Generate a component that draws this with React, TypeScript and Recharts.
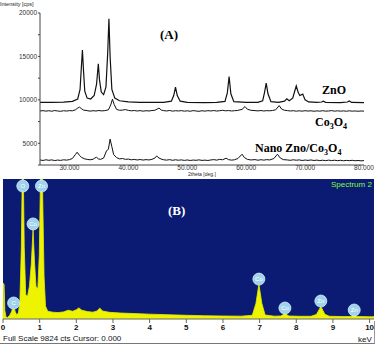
import { LineChart, Line, XAxis, YAxis, AreaChart, Area, CartesianGrid, ReferenceDot } from "recharts";

// XRD patterns: [2theta, intensity]
const zno: [number, number][] = [
  [25, 9700], [27, 9710], [29, 9750], [30.5, 9830], [31.4, 10100], [31.8, 11200], [32.0, 13500], [32.2, 15750],
  [32.4, 13200], [32.6, 11000], [33.0, 10200], [33.6, 10100], [34.2, 10500], [34.6, 11800], [34.9, 14150],
  [35.1, 12300], [35.4, 10900], [35.8, 10600], [36.2, 11500], [36.5, 15500], [36.7, 19340], [36.9, 15000],
  [37.2, 11200], [37.7, 10200], [38.5, 9900], [40, 9760], [42, 9720], [44, 9700], [46, 9710], [47.3, 9850],
  [47.7, 10500], [48.0, 11460], [48.3, 10500], [48.8, 9850], [50, 9720], [53, 9690], [55, 9700], [56.4, 9820],
  [56.8, 10800], [57.1, 12690], [57.4, 10700], [57.9, 9800], [60, 9700], [62, 9720], [62.8, 9900], [63.1, 10800],
  [63.4, 11930], [63.7, 10700], [64.2, 9800], [65.5, 9720], [66.5, 9850], [66.9, 10120], [67.3, 9900],
  [67.9, 10200], [68.2, 10900], [68.5, 11610], [68.8, 10900], [69.1, 10500], [69.6, 10660], [70.0, 10000],
  [70.6, 9760], [72, 9700], [72.8, 9750], [73.1, 9850], [73.5, 9720], [76, 9690], [77.2, 9750], [77.5, 9880],
  [77.9, 9700], [80, 9680],
];

const co3o4: [number, number][] = [
  [25, 8720], [25.5, 8760], [26, 8700], [26.5, 8750], [27, 8690], [27.5, 8770], [28, 8720], [28.5, 8680],
  [29, 8750], [29.5, 8710], [30, 8760], [30.5, 8740], [31, 8850], [31.4, 9050], [31.7, 9160], [32.0, 9000],
  [32.4, 8820], [33, 8760], [33.5, 8700], [34, 8750], [34.5, 8720], [35, 8770], [35.5, 8730], [36, 8760],
  [36.6, 8850], [37.0, 9400], [37.3, 10080], [37.6, 9450], [38, 8900], [38.5, 8800], [39, 8820], [39.5, 8880],
  [40, 8790], [40.5, 8740], [41, 8770], [41.5, 8720], [42, 8760], [42.5, 8700], [43, 8750], [43.5, 8720],
  [44, 8770], [44.5, 8800], [45.2, 9050], [45.6, 8820], [46, 8760], [46.5, 8720], [47, 8780], [47.5, 8700],
  [48, 8750], [48.5, 8720], [49, 8760], [49.5, 8700], [50, 8740], [50.5, 8690], [51, 8760], [51.5, 8720],
  [52, 8680], [52.5, 8750], [53, 8700], [53.5, 8760], [54, 8720], [54.5, 8770], [55, 8710], [55.5, 8750],
  [56, 8800], [56.5, 8740], [57, 8770], [57.5, 8720], [58, 8750], [58.5, 8780], [59.3, 8900], [59.8, 9230],
  [60.2, 8920], [60.8, 8800], [61.5, 8760], [62, 8730], [62.5, 8770], [63, 8720], [63.5, 8760], [64, 8740],
  [64.5, 8780], [65.0, 8850], [65.6, 9340], [66.0, 8950], [66.5, 8800], [67, 8760], [67.5, 8720], [68, 8750],
  [68.5, 8700], [69, 8740], [69.5, 8700], [70, 8750], [70.5, 8710], [71, 8740], [71.5, 8690], [72, 8730],
  [72.5, 8700], [73, 8750], [73.5, 8700], [74, 8720], [74.5, 8760], [75, 8700], [75.5, 8740], [76, 8700],
  [76.5, 8730], [77, 8690], [77.5, 8740], [78, 8700], [78.5, 8720], [79, 8690], [79.5, 8720], [80, 8700],
];

const nano: [number, number][] = [
  [25, 3080], [25.5, 3020], [26, 3100], [26.5, 3040], [27, 3090], [27.5, 3010], [28, 3070], [28.5, 3030],
  [29, 3100], [29.5, 3060], [30, 3120], [30.5, 3250], [31.0, 3700], [31.3, 3970], [31.7, 3600], [32.1, 3350],
  [32.6, 3200], [33, 3150], [33.5, 3100], [34, 3160], [34.3, 3300], [34.6, 3390], [34.9, 3200], [35.3, 3150],
  [35.8, 3300], [36.3, 4150], [36.6, 4300], [36.9, 5470], [37.2, 4600], [37.5, 3700], [38, 3350], [38.5, 3200],
  [39, 3250], [39.5, 3150], [40, 3180], [40.5, 3100], [41, 3140], [41.5, 3080], [42, 3130], [42.5, 3070],
  [43, 3120], [43.5, 3080], [44, 3150], [44.5, 3300], [44.8, 3540], [45.2, 3300], [45.7, 3150], [46, 3100],
  [46.5, 3060], [47, 3120], [47.5, 3040], [48, 3100], [48.5, 3050], [49, 3090], [49.5, 3030], [50, 3080],
  [50.5, 3020], [51, 3070], [51.5, 3040], [52, 3090], [52.5, 3030], [53, 3060], [53.5, 3020], [54, 3080],
  [54.5, 3120], [55, 3060], [55.5, 3150], [56, 3100], [56.6, 3280], [57, 3120], [57.5, 3060], [58, 3100],
  [58.6, 3250], [59.3, 3740], [59.7, 3350], [60.2, 3150], [60.8, 3080], [61.5, 3120], [62, 3050], [62.5, 3110],
  [63, 3060], [63.5, 3120], [64, 3080], [64.7, 3250], [65.3, 3740], [65.8, 3300], [66.3, 3120], [67, 3080],
  [67.5, 3040], [68, 3100], [68.5, 3050], [69, 3090], [69.5, 3020], [70, 3070], [70.5, 3030], [71, 3080],
  [71.5, 3020], [72, 3060], [72.5, 3010], [73, 3050], [73.5, 3000], [74, 3060], [74.5, 3010], [75, 3050],
  [75.5, 3000], [76, 3040], [76.5, 2990], [77, 3030], [77.5, 3000], [78, 3040], [78.5, 2990], [79, 3020],
  [79.5, 2980], [80, 3010],
];

const thetaTicks = [25, 30, 35, 40, 45, 50, 55, 60, 65, 70, 75, 80];
const intensityTicks = [2500, 5000, 7500, 10000, 12500, 15000, 17500, 20000];

// EDS spectrum: [keV, counts]
const eds: [number, number][] = [
  [0, 0], [0.015, 2500], [0.03, 2400], [0.05, 600], [0.08, 150], [0.12, 100], [0.18, 250], [0.23, 500],
  [0.29, 930], [0.33, 550], [0.37, 300], [0.42, 420], [0.46, 1200], [0.5, 5000], [0.54, 13000], [0.58, 5000],
  [0.62, 1700], [0.67, 1600], [0.72, 2300], [0.77, 3800], [0.82, 6270], [0.86, 4000], [0.9, 2300], [0.95, 2100],
  [0.99, 4500], [1.02, 9500], [1.05, 13000], [1.08, 9000], [1.12, 3000], [1.16, 900], [1.22, 550], [1.35, 480],
  [1.5, 450], [1.65, 500], [1.78, 620], [1.9, 540], [2.0, 650], [2.07, 780], [2.15, 620], [2.3, 520],
  [2.45, 480], [2.56, 560], [2.64, 760], [2.72, 560], [2.9, 470], [3.2, 420], [3.6, 380], [4.0, 340],
  [4.5, 300], [5.0, 260], [5.5, 230], [6.0, 210], [6.5, 200], [6.8, 260], [6.9, 1100], [6.98, 2440],
  [7.06, 1100], [7.15, 280], [7.4, 200], [7.58, 210], [7.69, 380], [7.8, 210], [8.1, 190], [8.4, 190],
  [8.55, 320], [8.67, 880], [8.78, 330], [8.9, 190], [9.3, 170], [9.5, 180], [9.58, 300], [9.66, 175],
  [10.0, 160], [10.12, 160],
];

const edsLabels = [
  { el: "C", k: 0.29, c: 1120 },
  { el: "O", k: 0.54, c: 9330 },
  { el: "Co", k: 0.82, c: 6670 },
  { el: "Zn", k: 1.05, c: 9330 },
  { el: "Co", k: 6.98, c: 2800 },
  { el: "Co", k: 7.69, c: 770 },
  { el: "Zn", k: 8.67, c: 1260 },
  { el: "Zn", k: 9.58, c: 630 },
];

const keVTicks = [0, 1, 2, 3, 4, 5, 6, 7, 8, 9, 10];
const minorKeV = Array.from({ length: 102 }, (_, i) => Math.round(i * 10) / 100);
const FULL_SCALE = 9824;

const pts = (arr: [number, number][]) => arr.map(([x, y]) => ({ x, y }));

const serif = "'Liberation Serif', 'Times New Roman', serif";
const sans = "'Liberation Sans', Arial, sans-serif";

function Tag({ x, y, size, children, color = "#000", bold = true, font = serif }: any) {
  return (
    <span
      style={{
        position: "absolute",
        left: x,
        top: y,
        fontSize: size,
        fontFamily: font,
        fontWeight: bold ? "bold" : "normal",
        color,
        lineHeight: 1,
        whiteSpace: "nowrap",
      }}
    >
      {children}
    </span>
  );
}

export default function App() {
  const axisColor = "#444";
  return (
    <div style={{ position: "absolute", left: 0, top: 0, width: 379, height: 346, background: "#fff", overflow: "hidden" }}>
      {/* (A) XRD */}
      <div style={{ position: "absolute", left: 0, top: 0 }}>
        <LineChart width={379} height={176} margin={{ top: 13, right: 15, bottom: 0, left: 4 }}>
          <XAxis xAxisId="in" type="number" dataKey="x" domain={[25, 80]} ticks={thetaTicks} interval={0}
            height={0} mirror tick={false} tickSize={2} axisLine={false} stroke={axisColor} />
          <XAxis xAxisId="b" type="number" dataKey="x" domain={[25, 80]} ticks={thetaTicks} interval={0}
            height={11} tickSize={0} tickMargin={0} stroke={axisColor}
            tick={{ fontSize: 6.5, fill: "#333", fontFamily: sans }}
            tickFormatter={(v: number) => (v % 10 === 0 ? v.toFixed(3) : "")} />
          <XAxis xAxisId="t" orientation="top" type="number" dataKey="x" domain={[25, 80]} ticks={thetaTicks}
            interval={0} height={0} mirror tick={false} tickSize={2} stroke={axisColor} />
          <YAxis yAxisId="l" type="number" domain={[2500, 20000]} ticks={intensityTicks} interval={0} width={36}
            tickSize={2} tickMargin={1} stroke={axisColor}
            tick={{ fontSize: 6.5, fill: "#333", fontFamily: sans }}
            tickFormatter={(v: number) => (v % 5000 === 0 ? String(v) : "")} />
          <YAxis yAxisId="r" orientation="right" type="number" domain={[2500, 20000]} ticks={intensityTicks}
            interval={0} width={0} mirror tick={false} tickSize={2} stroke={axisColor} />
          <Line xAxisId="b" yAxisId="l" data={pts(zno)} dataKey="y" stroke="#111" strokeWidth={1.2} dot={false} isAnimationActive={false} />
          <Line xAxisId="b" yAxisId="l" data={pts(co3o4)} dataKey="y" stroke="#111" strokeWidth={1} dot={false} isAnimationActive={false} />
          <Line xAxisId="b" yAxisId="l" data={pts(nano)} dataKey="y" stroke="#111" strokeWidth={1} dot={false} isAnimationActive={false} />
        </LineChart>
      </div>
      <Tag x={0} y={2} size={5.5} bold={false} font={sans} color="#222">Intensity [cps]</Tag>
      <Tag x={188} y={172} size={5} bold={false} font={sans} color="#222">2theta [deg.]</Tag>
      <Tag x={160} y={28} size={13}>(A)</Tag>
      <Tag x={322} y={84} size={12}>ZnO</Tag>
      <Tag x={315} y={116} size={12}>Co<sub style={{ fontSize: 8 }}>3</sub>O<sub style={{ fontSize: 8 }}>4</sub></Tag>
      <Tag x={255} y={142} size={12}>Nano Zno/Co<sub style={{ fontSize: 8 }}>3</sub>O<sub style={{ fontSize: 8 }}>4</sub></Tag>

      {/* (B) EDS */}
      <div style={{ position: "absolute", left: 0, top: 178 }}>
        <AreaChart width={379} height={168} data={eds.map(([k, c]) => ({ k, c }))} margin={{ top: 1, right: 5, bottom: 11, left: 3 }}>
          <CartesianGrid fill="#0b1a72" stroke="none" horizontal={false} vertical={false} />
          <XAxis xAxisId="minor" type="number" dataKey="k" domain={[0, 10.12]} ticks={minorKeV} interval={0}
            height={0} tick={false} tickSize={2} axisLine={false} stroke="#666" />
          <XAxis type="number" dataKey="k" domain={[0, 10.12]} ticks={keVTicks} interval={0} height={16}
            tickSize={4} tickMargin={1} stroke="#666"
            tick={{ fontSize: 8, fontWeight: "bold", fill: "#111", fontFamily: sans }} />
          <YAxis hide type="number" domain={[0, FULL_SCALE]} allowDataOverflow />
          <Area type="linear" dataKey="c" stroke="#e4ee00" strokeWidth={0.8} fill="#eef300" fillOpacity={1} isAnimationActive={false} />
          {edsLabels.map((d, i) => (
            <ReferenceDot key={i} x={d.k} y={d.c} r={6} fill="#9fd2ec" stroke="#d8f0ff" strokeWidth={0.8}
              label={{ value: d.el, position: "center", fill: "#fff", fontSize: 6, fontFamily: sans }} />
          ))}
        </AreaChart>
      </div>
      <Tag x={331} y={181} size={8} bold={false} font={sans} color="#7cff3c">Spectrum 2</Tag>
      <Tag x={168} y={204} size={13} color="#fff">(B)</Tag>
      <div style={{ position: "absolute", left: 0, top: 321, width: 374, height: 22, borderRight: "1px solid #999", borderBottom: "1px solid #777" }} />
      <Tag x={3} y={335} size={8} bold={false} font={sans} color="#111">Full Scale 9824 cts Cursor: 0.000</Tag>
      <Tag x={358} y={336} size={8} bold={false} font={sans} color="#111">keV</Tag>
    </div>
  );
}
